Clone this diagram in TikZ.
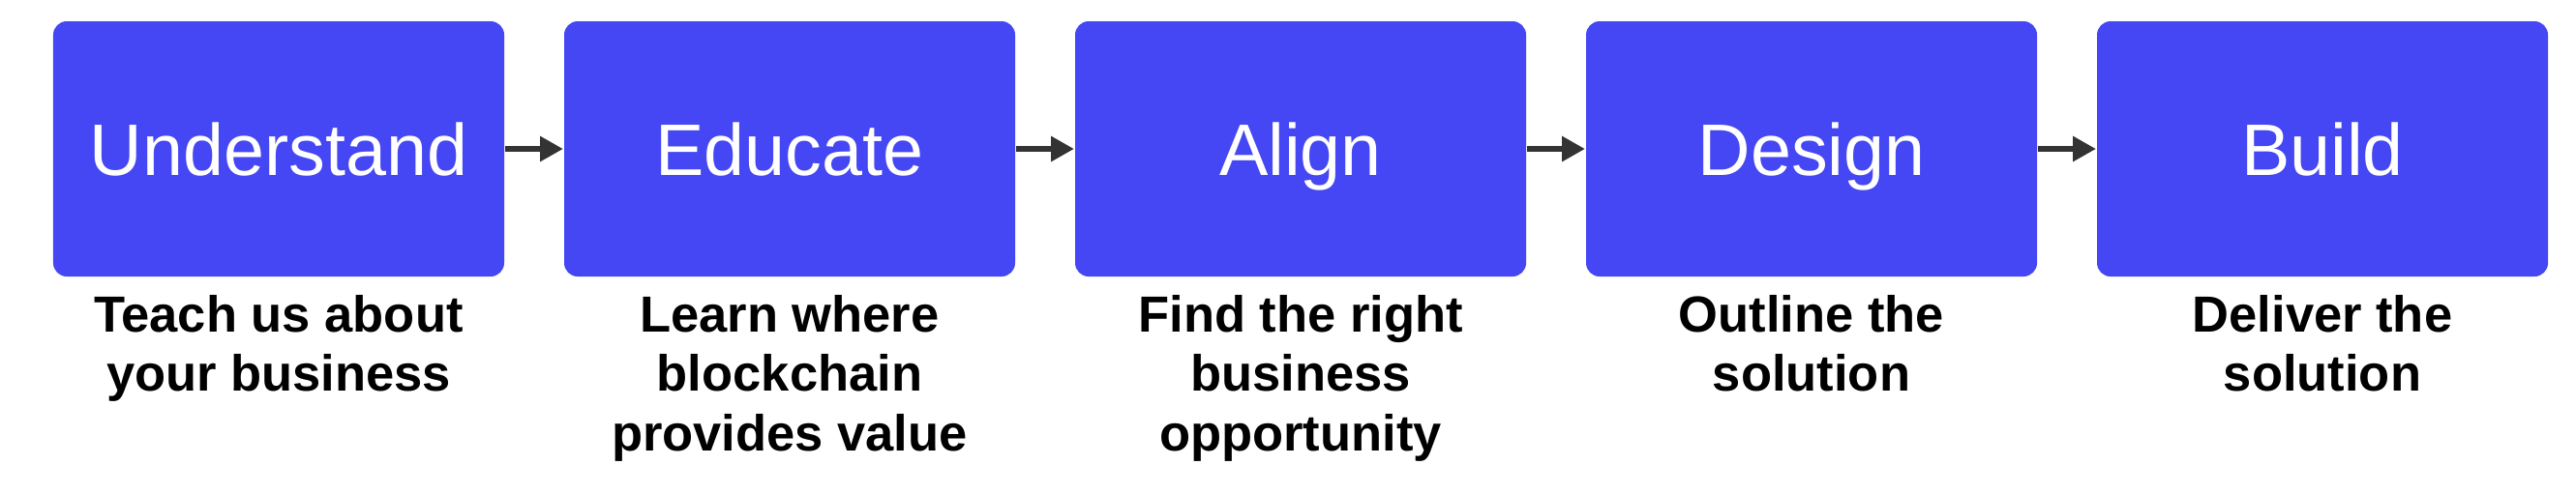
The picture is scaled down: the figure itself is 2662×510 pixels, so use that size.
\documentclass[tikz,border=0pt]{standalone}
\usepackage{fontspec}
\setmainfont{Liberation Sans}
\usetikzlibrary{arrows.meta}
\definecolor{boxblue}{HTML}{4447F3}
\definecolor{arrgray}{HTML}{333333}
\begin{document}
\begin{tikzpicture}[x=0.2pt,y=-0.2pt,
  stepbox/.style={fill=boxblue, draw=none, rounded corners=2.8pt,
    minimum width=93.2pt, minimum height=52.8pt, inner sep=0pt,
    text=white, font={\fontsize{15.1pt}{17pt}\selectfont},
    text height=10.8pt, text depth=0pt},
  sub/.style={anchor=north, align=center, inner sep=0pt, text=black,
    font={\fontsize{10.5pt}{12.3pt}\selectfont\bfseries}},
  arr/.style={draw=arrgray, line width=1.2pt,
    -{Triangle[length=4.8pt,width=5pt]}, arrgray}]
\useasboundingbox (0,0) rectangle (2662,510);
\node[stepbox] (b1) at (288,154) {Understand};
\node[stepbox] (b2) at (816,154) {Educate};
\node[stepbox] (b3) at (1344,154) {Align};
\node[stepbox] (b4) at (1872,154) {Design};
\node[stepbox] (b5) at (2400,154) {Build};
\draw[arr] (b1.east) -- (b2.west);
\draw[arr] (b2.east) -- (b3.west);
\draw[arr] (b3.east) -- (b4.west);
\draw[arr] (b4.east) -- (b5.west);
\node[sub] (s1) at (288,304) {Teach us about\\your business};
\node[sub] (s2) at (816,304) {Learn where\\blockchain\\provides value};
\node[sub] (s3) at (1344,304) {Find the right\\business\\opportunity};
\node[sub] (s4) at (1872,304) {Outline the\\solution};
\node[sub] (s5) at (2400,304) {Deliver the\\solution};
\end{tikzpicture}
\end{document}
